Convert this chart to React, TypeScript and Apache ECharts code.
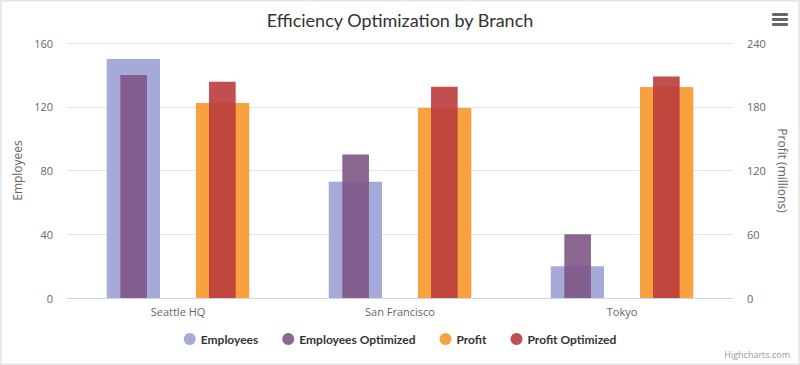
import React, { useEffect, useRef } from "react";
import * as echarts from "echarts";

const categories = ["Seattle HQ", "San Francisco", "Tokyo"];
const employees = [150, 73, 20];
const employeesOptimized = [140, 90, 40];
const profit = [183.6, 178.8, 198.5];
const profitOptimized = [203.6, 198.8, 208.5];
const leftTicks = [0, 40, 80, 120, 160];
const rightTicks = [0, 60, 120, 180, 240];

const FONT = "'Open Sans', 'DejaVu Sans', sans-serif";
const FONT2 = "Lato, 'Open Sans', sans-serif";

export default function App() {
  const ref = useRef<HTMLDivElement>(null);
  useEffect(() => {
    document.body.style.margin = "0";
    const chart = echarts.init(ref.current!, null, { renderer: "svg" });
    const axisLabel = { color: "#666", fontSize: 11, fontFamily: FONT };
    chart.setOption({
      animation: false,
      backgroundColor: "#fff",
      textStyle: { fontFamily: FONT },
      title: {
        text: "Efficiency Optimization by Branch",
        left: "center",
        top: 6,
        textStyle: { color: "#333", fontSize: 18, fontWeight: "normal", fontFamily: FONT2 },
      },
      legend: {
        bottom: 15,
        left: "center",
        icon: "circle",
        itemWidth: 12,
        itemHeight: 12,
        itemGap: 24,
        textStyle: { color: "#333", fontSize: 12, fontWeight: "bold", fontFamily: FONT2 },
        data: ["Employees", "Employees Optimized", "Profit", "Profit Optimized"],
      },
      grid: { left: 67, right: 67, top: 43, bottom: 67 },
      xAxis: [
        {
          type: "category",
          data: categories,
          axisLine: { lineStyle: { color: "#ccd6eb" } },
          axisTick: { show: false },
          axisLabel: { ...axisLabel, margin: 8 },
        },
        {
          type: "category",
          data: categories,
          show: false,
        },
      ],
      yAxis: [
        {
          type: "value",
          min: 0,
          max: leftTicks[leftTicks.length - 1],
          interval: 40,
          name: "Employees",
          nameLocation: "middle",
          nameGap: 34,
          nameTextStyle: { color: "#666", fontSize: 12, fontFamily: FONT },
          axisLabel: { ...axisLabel, margin: 14 },
          splitLine: { lineStyle: { color: "#e6e6e6" } },
          axisLine: { show: false },
          axisTick: { show: false },
        },
        {
          type: "value",
          min: 0,
          max: rightTicks[rightTicks.length - 1],
          interval: 60,
          name: "Profit (millions)",
          nameLocation: "middle",
          nameGap: 40,
          nameRotate: -90,
          nameTextStyle: { color: "#666", fontSize: 12, fontFamily: FONT },
          axisLabel: { ...axisLabel, margin: 14 },
          splitLine: { show: false },
          axisLine: { show: false },
          axisTick: { show: false },
        },
      ],
      series: [
        {
          name: "Employees",
          type: "bar",
          xAxisIndex: 0,
          yAxisIndex: 0,
          data: employees,
          barWidth: "24%",
          barGap: "67.5%",
          itemStyle: { color: "rgba(165,170,217,1)" },
          z: 1,
        },
        {
          name: "Profit",
          type: "bar",
          xAxisIndex: 0,
          yAxisIndex: 1,
          data: profit,
          barWidth: "24%",
          barGap: "67.5%",
          itemStyle: { color: "rgba(248,161,63,1)" },
          z: 1,
        },
        {
          name: "Employees Optimized",
          type: "bar",
          xAxisIndex: 1,
          yAxisIndex: 0,
          data: employeesOptimized,
          barWidth: "12%",
          barGap: "233%",
          itemStyle: { color: "rgba(126,86,134,.9)" },
          z: 2,
        },
        {
          name: "Profit Optimized",
          type: "bar",
          xAxisIndex: 1,
          yAxisIndex: 1,
          data: profitOptimized,
          barWidth: "12%",
          barGap: "233%",
          itemStyle: { color: "rgba(186,60,61,.9)" },
          z: 2,
        },
      ],
      graphic: [
        {
          type: "rect",
          shape: { x: 0, y: 0, width: 800, height: 365 },
          style: { fill: "none", stroke: "#e6e6e6", lineWidth: 3 },
          silent: true,
          z: 100,
        },
        { type: "rect", shape: { x: 772, y: 13, width: 16, height: 3, r: 1 }, style: { fill: "#666" } },
        { type: "rect", shape: { x: 772, y: 18, width: 16, height: 3, r: 1 }, style: { fill: "#666" } },
        { type: "rect", shape: { x: 772, y: 23, width: 16, height: 3, r: 1 }, style: { fill: "#666" } },
        {
          type: "text",
          right: 10,
          bottom: 6,
          style: { text: "Highcharts.com", fill: "#999", fontSize: 9, fontFamily: FONT },
        },
      ],
    });
    return () => chart.dispose();
  }, []);
  return <div ref={ref} style={{ width: 800, height: 365 }} />;
}
